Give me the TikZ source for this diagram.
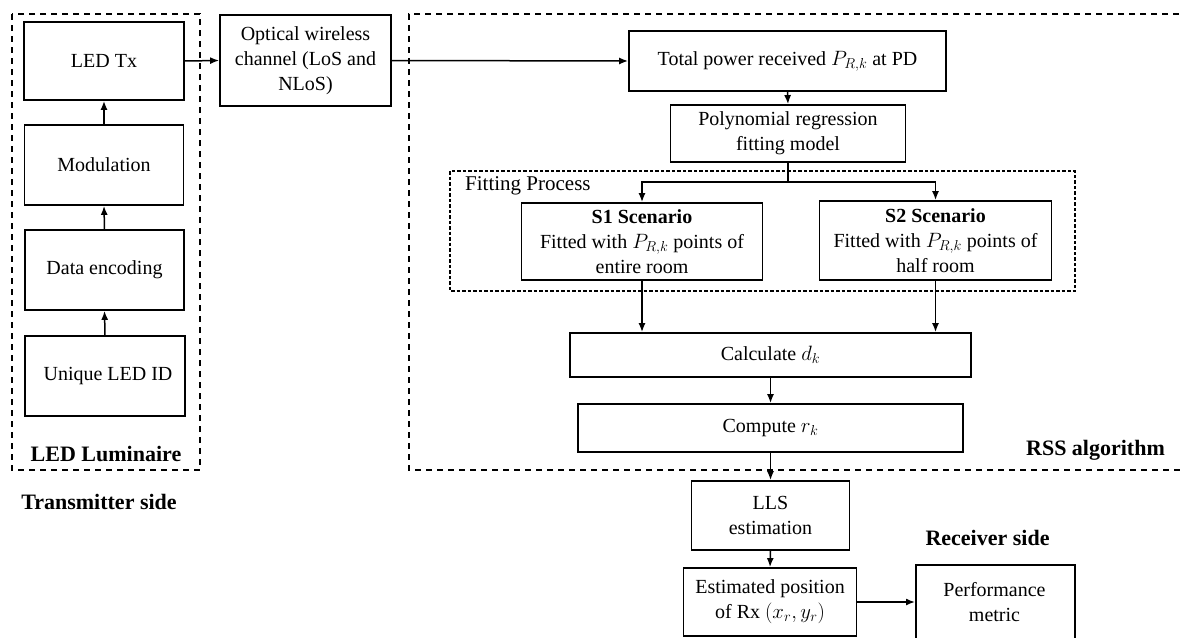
\documentclass[tikz,border=0pt]{standalone}
\usepackage{fontspec}
\setmainfont{Liberation Serif}
\usetikzlibrary{arrows.meta}
\tikzset{
  blk/.style={draw, line width=1.8pt, align=center, inner sep=0pt, font=\fontsize{20}{25}\selectfont},
  grp/.style={draw, line width=1.7pt, dash pattern=on 6pt off 5pt},
  fgrp/.style={draw, line width=1.3pt, dash pattern=on 3.5pt off 2pt},
  lbl/.style={font=\fontsize{22}{26}\selectfont\bfseries, inner sep=0pt},
  arr/.style={line width=1.5pt, -{Latex[length=9pt,width=7pt]}},
  ln/.style={line width=1.5pt}
}
\begin{document}
\begin{tikzpicture}[x=1pt,y=-1pt]
\useasboundingbox (0,0) rectangle (1183,637);
% group frames
\draw[grp] (12,14) rectangle (200,470);
\draw[grp] (1190,14) -- (409,14) -- (409,470) -- (1190,470);
\draw[fgrp] (450,171) rectangle (1075,291);
% transmitter
\node[blk, minimum width=160pt, minimum height=78pt] (tx) at (104,61) {LED Tx};
\node[blk, minimum width=159pt, minimum height=80pt] (mod) at (104,165) {Modulation};
\node[blk, minimum width=159pt, minimum height=80pt] (enc) at (104.5,270) {Data encoding};
\node[blk, minimum width=160pt, minimum height=80pt] (uid) at (105,376) {\hspace*{6pt}Unique LED ID};
\node[lbl] (lum) at (106,454) {LED Luminaire};
\node[lbl] (txs) at (99,502) {Transmitter side};
% channel
\node[blk, minimum width=171pt, minimum height=91pt] (owc) at (305.5,60.5) {Optical wireless\\channel (LoS and\\NLoS)};
% RSS
\node[blk, minimum width=317pt, minimum height=60pt] (tot) at (787.5,61) {Total power received $P_{R,k}$ at PD};
\node[blk, minimum width=235pt, minimum height=57pt] (poly) at (788,133.5) {Polynomial regression\\fitting model};
\node[font=\fontsize{21}{25}\selectfont, anchor=west, inner sep=0pt] (fp) at (465,186) {Fitting Process};
\node[blk, minimum width=241pt, minimum height=77pt] (s1) at (642,241.5) {\textbf{S1 Scenario}\\Fitted with $P_{R,k}$ points of\\entire room};
\node[blk, minimum width=232pt, minimum height=79pt] (s2) at (935.5,240.5) {\textbf{S2 Scenario}\\Fitted with $P_{R,k}$ points of\\half room};
\node[blk, minimum width=401pt, minimum height=44pt] (calc) at (770.5,355) {Calculate $d_k$};
\node[blk, minimum width=385pt, minimum height=48pt] (comp) at (770.5,428) {Compute $r_k$};
\node[lbl] (rss) at (1095.5,450) {RSS algorithm};
% receiver
\node[blk, minimum width=158pt, minimum height=69pt] (lls) at (770.5,515.5) {LLS\\estimation};
\node[blk, minimum width=173pt, minimum height=68pt] (est) at (770,602) {Estimated position\\of Rx $(x_r, y_r)$};
\node[blk, minimum width=159pt, minimum height=84pt, anchor=north west] (perf) at (915,564) {};
\node[font=\fontsize{20}{25}\selectfont, align=center, inner sep=0pt] (perft) at (994.5,602) {Performance\\metric};
\node[lbl] (rxs) at (987.5,538) {Receiver side};
% connectors
\draw[arr] (uid.north) -- (enc.south);
\draw[arr] (enc.north) -- (mod.south);
\draw[arr] (mod.north) -- (tx.south);
\draw[arr] (tx.east) -- (owc.west);
\draw[arr] (owc.east) -- (tot.west);
\draw[arr] (tot.south) -- (poly.north);
\coordinate (sp) at (788,182);
\coordinate (sl) at (642,182);
\coordinate (sr) at (935.5,182);
\draw[ln] (poly.south) -- (sp);
\draw[arr] (sp) -- (sl) -- (s1.north);
\draw[arr] (sp) -- (sr) -- (s2.north);
\draw[arr] (s1.south) -- (s1.south |- calc.north);
\draw[arr] (s2.south) -- (s2.south |- calc.north);
\draw[arr] (calc.south) -- (comp.north);
\draw[arr] (comp.south) -- (lls.north);
\draw[arr] (lls.south) -- (est.north);
\draw[arr] (est.east) -- (est.east -| perf.west);
\end{tikzpicture}
\end{document}
